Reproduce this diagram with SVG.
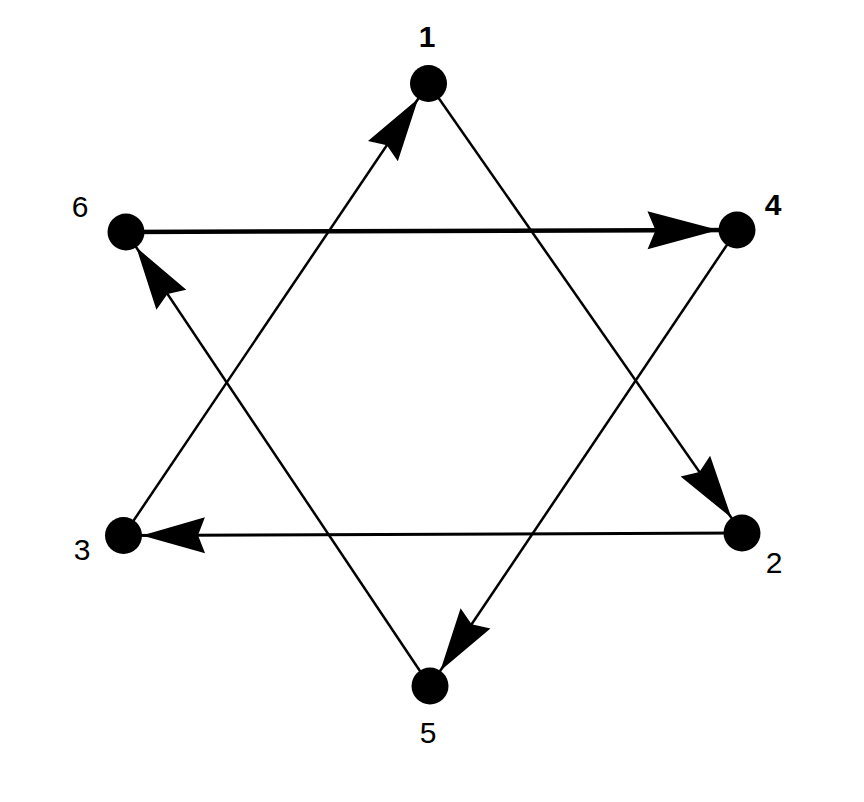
<svg xmlns="http://www.w3.org/2000/svg" width="864" height="802" viewBox="0 0 864 802">
  <style>
    .edge { stroke: #000; fill: none; }
    .thin { stroke-width: 2.5; }
    .mid { stroke-width: 3; }
    .thick { stroke-width: 4.5; }
    .node circle { fill: #000; }
    .node text { font-family: "Liberation Sans", Arial, sans-serif; font-size: 30px; fill: #000; text-anchor: middle; }
    .b { font-weight: bold; }
  </style>
  <defs>
    <marker id="arr" markerUnits="userSpaceOnUse" markerWidth="100" markerHeight="100" refX="18.5" refY="0" orient="auto" overflow="visible">
      <path d="M0,0 L-63,-18 L-56,0 L-63,18 Z" fill="#000"/>
    </marker>
    <marker id="arrBig" markerUnits="userSpaceOnUse" markerWidth="100" markerHeight="100" refX="18.5" refY="0" orient="auto" overflow="visible">
      <path d="M0,0 L-71,-19 L-63,0 L-71,19 Z" fill="#000"/>
    </marker>
  </defs>
  <rect width="864" height="802" fill="#fff"/>
  <g id="connectors">
    <line class="edge thin" x1="123.5" y1="535.5" x2="428.5" y2="83.5" marker-end="url(#arr)"/>
    <line class="edge thin" x1="428.5" y1="83.5" x2="742" y2="533" marker-end="url(#arr)"/>
    <line class="edge mid" x1="742" y1="533" x2="123.5" y2="535.5" marker-end="url(#arr)"/>
    <line class="edge thick" x1="126" y1="232" x2="737" y2="230" marker-end="url(#arrBig)"/>
    <line class="edge thin" x1="737" y1="230" x2="430" y2="686" marker-end="url(#arr)"/>
    <line class="edge thin" x1="430" y1="686" x2="126" y2="232" marker-end="url(#arr)"/>
  </g>
  <g id="node1" class="node"><circle cx="428.5" cy="83.5" r="18.5"/><text class="b" x="427" y="47">1</text></g>
  <g id="node2" class="node"><circle cx="742" cy="533" r="18.5"/><text x="774" y="573">2</text></g>
  <g id="node3" class="node"><circle cx="123.5" cy="535.5" r="18.5"/><text x="82" y="560">3</text></g>
  <g id="node4" class="node"><circle cx="737" cy="230" r="18.5"/><text class="b" x="773" y="215">4</text></g>
  <g id="node5" class="node"><circle cx="430" cy="686" r="18.5"/><text x="428" y="743">5</text></g>
  <g id="node6" class="node"><circle cx="126" cy="232" r="18.5"/><text x="80" y="217">6</text></g>
</svg>
